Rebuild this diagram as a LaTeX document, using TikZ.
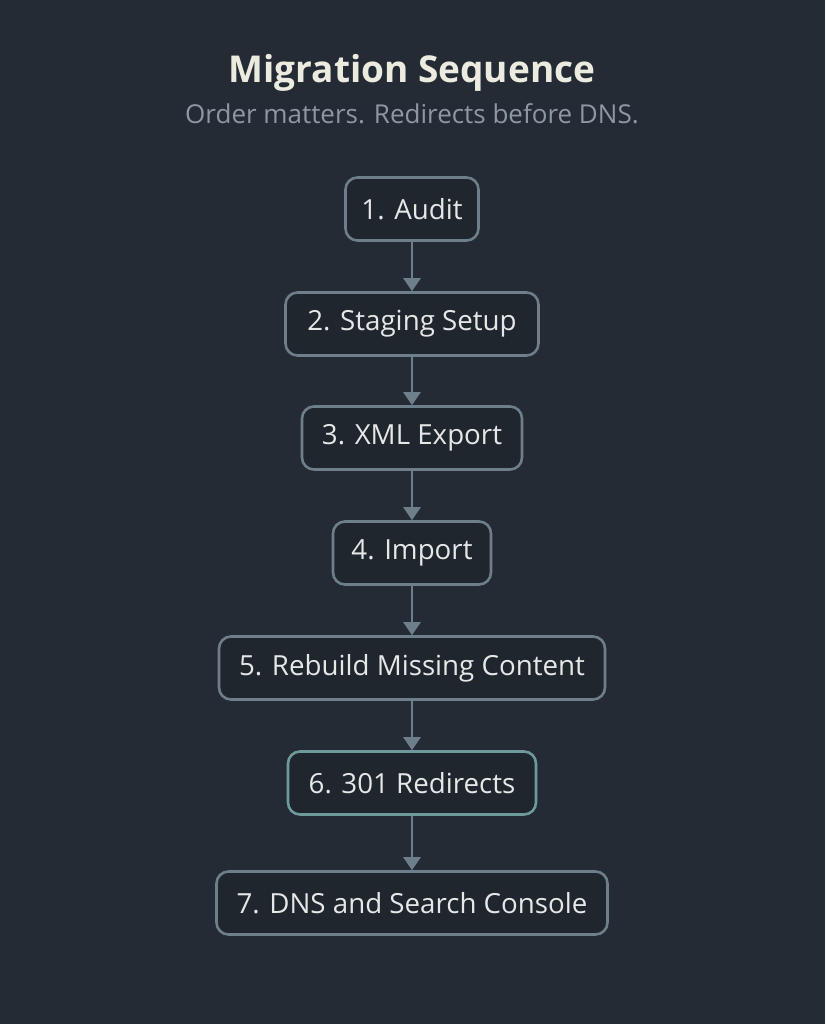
\documentclass[tikz,border=0pt]{standalone}
\usepackage{fontspec}
\setmainfont{Open Sans}
\usetikzlibrary{arrows.meta}
\definecolor{bg}{HTML}{242B34}
\definecolor{boxfill}{HTML}{1F262E}
\definecolor{edge}{HTML}{6E7F8B}
\definecolor{tealedge}{HTML}{6F9A9C}
\definecolor{titlec}{HTML}{ECEBE0}
\definecolor{subc}{HTML}{8D98A4}
\definecolor{textc}{HTML}{E6E8E8}
\begin{document}
\begin{tikzpicture}[x=1pt,y=-1pt,
  stepbox/.style={draw=edge, line width=2.6pt, fill=boxfill, rounded corners=12pt,
    minimum height=63pt, inner xsep=0pt, text=textc, font=\fontsize{27.7}{31}\selectfont},
  conn/.style={draw=edge, line width=2.4pt, -{Triangle[width=17pt,length=13pt]}}]
\fill[bg] (0,0) rectangle (825,1024);
\useasboundingbox (0,0) rectangle (825,1024);
\node[text=titlec, font=\fontsize{37}{42}\selectfont\bfseries] (title) at (412,73) {Migration Sequence};
\node[text=subc, font=\fontsize{26}{30}\selectfont] (sub) at (412,114) {Order matters. Redirects before DNS.};
\node[stepbox, minimum width=133pt] (s1) at (412,209) {1. Audit};
\node[stepbox, minimum width=253pt] (s2) at (412,324) {2. Staging Setup};
\node[stepbox, minimum width=220pt] (s3) at (412,438) {3. XML Export};
\node[stepbox, minimum width=158pt] (s4) at (412,553) {4. Import};
\node[stepbox, minimum width=386pt] (s5) at (412,668) {5. Rebuild Missing Content};
\node[stepbox, draw=tealedge, minimum width=248pt] (s6) at (412,783) {6. 301 Redirects};
\node[stepbox, minimum width=391pt] (s7) at (412,903) {7. DNS and Search Console};
\draw[conn] (s1) -- (s2);
\draw[conn] (s2) -- (s3);
\draw[conn] (s3) -- (s4);
\draw[conn] (s4) -- (s5);
\draw[conn] (s5) -- (s6);
\draw[conn] (s6) -- (s7);
\end{tikzpicture}
\end{document}
